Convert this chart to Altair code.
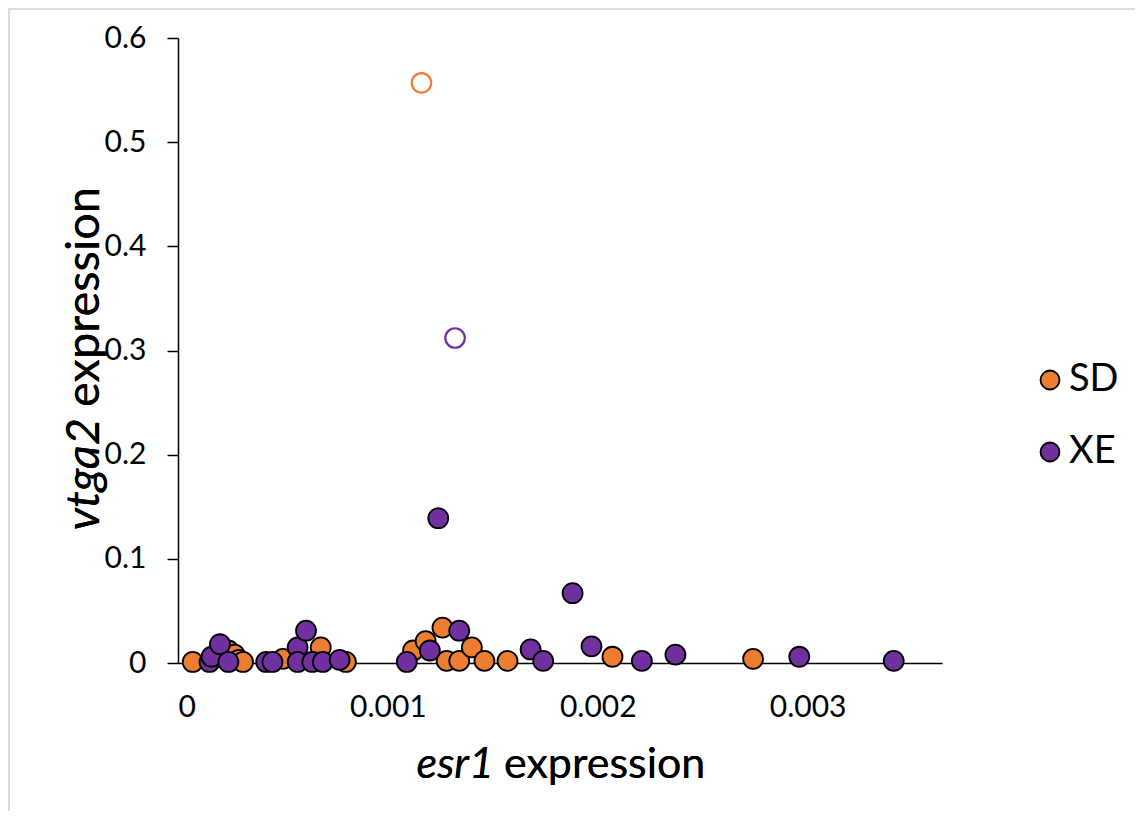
import altair as alt
import pandas as pd

# ---- data ----
sd_x = [0.00007, 0.00024, 0.00027, 0.00029, 0.00031, 0.00050, 0.00068, 0.00080,
        0.00112, 0.00118, 0.00126, 0.00128, 0.00134, 0.00140, 0.00146, 0.00157,
        0.00207, 0.00274]
sd_y = [0.001, 0.012, 0.008, 0.003, 0.001, 0.004, 0.015, 0.001,
        0.012, 0.021, 0.034, 0.002, 0.002, 0.015, 0.002, 0.002,
        0.006, 0.004]
xe_x = [0.00015, 0.00016, 0.00020, 0.00024, 0.00042, 0.00045, 0.00057, 0.00061,
        0.00057, 0.00064, 0.00069, 0.00077, 0.00109, 0.00120, 0.00124, 0.00134,
        0.00168, 0.00174, 0.00188, 0.00197, 0.00221, 0.00237, 0.00296, 0.00341]
xe_y = [0.001, 0.006, 0.018, 0.001, 0.001, 0.001, 0.015, 0.031,
        0.001, 0.001, 0.001, 0.003, 0.001, 0.012, 0.139, 0.031,
        0.013, 0.002, 0.067, 0.016, 0.002, 0.008, 0.006, 0.002]
out_group = ["SD", "XE"]
out_x = [0.00116, 0.00132]
out_y = [0.557, 0.312]

groups = ["SD", "XE"]
colors = ["#ED7D31", "#7030A0"]
x_ticks = [0, 0.001, 0.002, 0.003]
y_ticks = [0, 0.1, 0.2, 0.3, 0.4, 0.5, 0.6]

FONT = "Lato"
W, H = 764, 625

df = pd.DataFrame({
    "x": sd_x + xe_x,
    "y": sd_y + xe_y,
    "group": ["SD"] * len(sd_x) + ["XE"] * len(xe_x),
})
odf = pd.DataFrame({"x": out_x, "y": out_y, "group": out_group})
ldf = pd.DataFrame({"group": groups})

xscale = alt.Scale(domain=[0, 0.00364], nice=False, zero=True)
yscale = alt.Scale(domain=[0, 0.6], nice=False, zero=True)
cscale = alt.Scale(domain=groups, range=colors)
lscale = alt.Scale(type="point", domain=groups, range=[342, 414], padding=0)  # legend rows

xaxis = alt.Axis(values=x_ticks, format="~g", title=None, ticks=False,
                 labelPadding=29, grid=False, domainColor="black", domainWidth=1.5,
                 labelFontSize=30, labelFont=FONT, labelColor="black")
yaxis = alt.Axis(values=y_ticks, format="~g", title=None, ticks=True, tickSize=11,
                 tickColor="black", tickWidth=1.5, labelPadding=21, grid=False,
                 domainColor="black", domainWidth=1.5, labelFontSize=30,
                 labelFont=FONT, labelColor="black")

points = alt.Chart(df).mark_circle(size=400, stroke="black", strokeWidth=1.8,
                                   opacity=1).encode(
    x=alt.X("x:Q", scale=xscale, axis=xaxis),
    y=alt.Y("y:Q", scale=yscale, axis=yaxis),
    fill=alt.Fill("group:N", scale=cscale, legend=None),
)

hollow = alt.Chart(odf).mark_circle(size=380, fill="white", fillOpacity=1,
                                    strokeWidth=2.2, opacity=1).encode(
    x=alt.X("x:Q", scale=xscale),
    y=alt.Y("y:Q", scale=yscale, axis=None),
    stroke=alt.Stroke("group:N", scale=cscale, legend=None),
)

# legend (circle with black outline + label)
leg_sym = alt.Chart(ldf).mark_circle(size=360, stroke="black", strokeWidth=1.8,
                                     opacity=1).encode(
    x=alt.value(872),
    y=alt.Y("group:N", scale=lscale, axis=None),
    fill=alt.Fill("group:N", scale=cscale, legend=None),
)
leg_txt = alt.Chart(ldf).mark_text(font=FONT, fontSize=38, align="left",
                                   baseline="middle", color="black").encode(
    x=alt.value(891),
    y=alt.Y("group:N", scale=lscale, axis=None),
    text="group:N",
)

# axis titles with mixed italic / regular text
xt1 = alt.Chart(odf).mark_text(text="esr1", font=FONT, fontSize=43, fontStyle="italic",
                               align="right", baseline="middle", color="black").encode(
    x=alt.value(316), y=alt.value(727))
xt2 = alt.Chart(odf).mark_text(text="expression", font=FONT, fontSize=43,
                               align="left", baseline="middle", color="black").encode(
    x=alt.value(326), y=alt.value(727))
yt1 = alt.Chart(odf).mark_text(text="vtga2", font=FONT, fontSize=47, fontStyle="italic",
                               align="right", baseline="middle", angle=270, color="black").encode(
    x=alt.value(-93), y=alt.value(380))
yt2 = alt.Chart(odf).mark_text(text="expression", font=FONT, fontSize=47,
                               align="left", baseline="middle", angle=270, color="black").encode(
    x=alt.value(-93), y=alt.value(369))

# light frame around the whole chart
frame = alt.Chart(odf).mark_rect(fill=None, stroke="#d9d9d9", strokeWidth=1.5).encode(
    x=alt.value(-169), x2=alt.value(1000), y=alt.value(-29), y2=alt.value(900))

chart = alt.layer(frame, points, hollow, leg_sym, leg_txt, xt1, xt2, yt1, yt2).resolve_scale(
    y="independent"
).properties(
    width=W, height=H,
    background="white",
    padding={"left": 170, "top": 30, "right": 193, "bottom": 148},
    autosize=alt.AutoSizeParams(type="none"),
).configure_view(stroke="transparent", strokeWidth=0)

chart.save("out.html", embed_options={"renderer": "svg", "actions": False})
